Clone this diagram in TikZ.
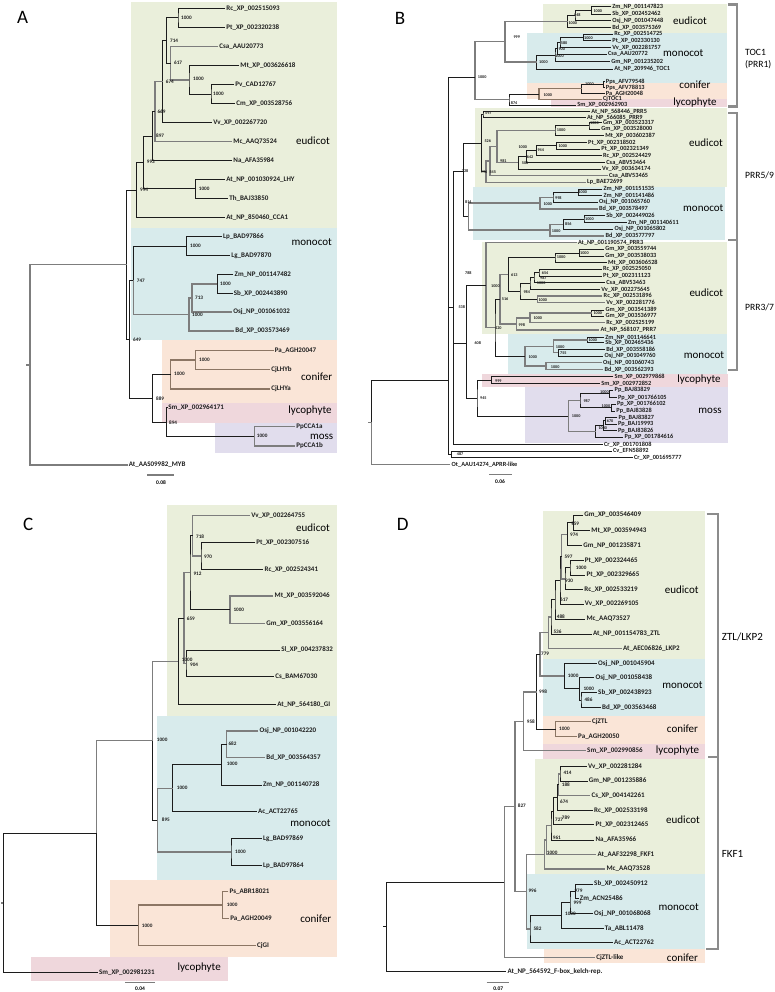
\documentclass[tikz,border=0pt]{standalone}
\usepackage{fontspec}
\setmainfont{Carlito}
\definecolor{cgreen}{RGB}{234,239,219}
\definecolor{cblue}{RGB}{216,235,236}
\definecolor{corange}{RGB}{250,229,215}
\definecolor{cpink}{RGB}{239,215,220}
\definecolor{cmoss}{RGB}{225,221,237}
\definecolor{brk}{RGB}{28,28,28}
\definecolor{brg}{RGB}{125,125,125}
\definecolor{brc}{RGB}{140,118,100}
\definecolor{bkt}{RGB}{140,140,140}
\newcounter{bsc}
\newcommand\Tl[4]{\coordinate (#1) at (#2,#3);\node[lab] (#1-t) at ([xshift=1.2pt]#1) {#4};}
\newcommand\Tn[3]{\coordinate (#1) at (#2,#3);}
\newcommand\Tp[4][]{\draw[br,#1] (#3) -| (#2) |- (#4);}
\newcommand\Te[3][]{\draw[br,#1] (#2) |- (#3);}
\newcommand\Tb[3]{\stepcounter{bsc}\node[bsl] (bs\arabic{bsc}) at (#1,#2) {#3};}
\tikzset{
 br/.style={draw=brk, line width=0.8pt},
 g/.style={draw=brg, line width=1.4pt},
 cf/.style={draw=brc, line width=1.2pt},
 lab/.style={anchor=west, inner sep=0pt, font=\fontsize{7}{8}\selectfont\bfseries, text=black!88},
 bsl/.style={anchor=west, inner sep=0pt, font=\fontsize{5.2}{6}\selectfont\bfseries, text=black!88},
 clade/.style={anchor=center, inner sep=0pt, font=\fontsize{11}{12}\selectfont},
 grp/.style={anchor=west, inner sep=0pt, font=\fontsize{11}{12}\selectfont},
 panel/.style={inner sep=0pt, font=\fontsize{19}{20}\selectfont},
 sbar/.style={draw=brg, line width=1.3pt},
 stxt/.style={inner sep=0pt, font=\fontsize{5.5}{6}\selectfont\bfseries},
 bracket/.style={draw=bkt, line width=2.4pt},
}
\begin{document}
\begin{tikzpicture}[x=1pt,y=-1pt]
\useasboundingbox (0,0) rectangle (775,992);
\fill[white] (0,0) rectangle (775,992);

%%%%%%%%%%%%%%%% PANEL A
\fill[cgreen] (131,2) rectangle (337,228);
\fill[cblue] (131,228) rectangle (337,340);
\fill[corange] (162,340) rectangle (337,403);
\fill[cpink] (162,403) rectangle (337,423);
\fill[cmoss] (215,423) rectangle (337,453);
\node[panel] (pA) at (22.5,17) {A};
\Tl{aRc}{225}{8.3}{Rc\_XP\_002515093}
\Tl{aPt}{225}{27.3}{Pt\_XP\_002320238}
\Tl{aCsa}{218}{46.7}{Csa\_AAU20773}
\Tl{aMt}{239}{65.7}{Mt\_XP\_003626618}
\Tl{aPv}{234}{84.3}{Pv\_CAD12767}
\Tl{aCm}{235}{103.7}{Cm\_XP\_003528756}
\Tl{aVv}{212}{122.7}{Vv\_XP\_002267720}
\Tl{aMc}{232}{141.7}{Mc\_AAQ73524}
\Tl{aNa}{232}{160.7}{Na\_AFA35984}
\Tl{aLHY}{225}{179.3}{At\_NP\_001030924\_LHY}
\Tl{aTh}{228}{198.3}{Th\_BAJ33850}
\Tl{aCCA}{225}{217.3}{At\_NP\_850460\_CCA1}
\Tl{aLp}{221.7}{236.7}{Lp\_BAD97866}
\Tl{aLg}{230}{255.7}{Lg\_BAD97870}
\Tl{aZm}{233.3}{274.3}{Zm\_NP\_001147482}
\Tl{aSb}{232.5}{293.3}{Sb\_XP\_002443890}
\Tl{aOsj}{232}{312}{Osj\_NP\_001061032}
\Tl{aBd}{234}{331}{Bd\_XP\_003573469}
\Tl{aPa}{273.5}{350.7}{Pa\_AGH20047}
\Tl{aCJb}{270}{369.3}{CjLHYb}
\Tl{aCJa}{270}{389}{CjLHYa}
\Tl{aSm}{167}{407.7}{Sm\_XP\_002964171}
\Tl{aPp1}{295}{426.7}{PpCCA1a}
\Tl{aPp2}{295}{446}{PpCCA1b}
\Tl{aMYB}{127.5}{465}{At\_AAS09982\_MYB}
\Tn{a1}{178}{17.8}
\Tn{a2}{211}{94}
\Tn{a3}{189}{80}
\Tn{a4}{170.7}{63.3}
\Tn{a5}{166.7}{40.6}
\Tn{a6}{162.7}{81.7}
\Tn{a7}{155}{111.7}
\Tn{a8}{152.7}{136.2}
\Tn{a9}{195.7}{188.8}
\Tn{a10}{143.3}{162.5}
\Tn{a11}{136.7}{190}
\Tn{a12}{186.7}{246.2}
\Tn{a13}{217.3}{283.8}
\Tn{a14}{192}{298}
\Tn{a15}{189}{314.5}
\Tn{a16}{133.3}{280.3}
\Tn{a17}{195.7}{360}
\Tn{a18}{170.7}{374.5}
\Tn{a19}{254.3}{436.3}
\Tn{a20}{166.7}{422}
\Tn{a21}{152.7}{398.3}
\Tn{a22}{129.3}{339.3}
\Tn{a23}{126.7}{264.7}
\Tn{aR}{30}{365}
\Tn{aRt}{26}{365}
\Tp{a1}{aRc}{aPt}
\Tp{a2}{aPv}{aCm}
\Tp{a3}{aMt}{a2}
\Tp[g]{a4}{aCsa}{a3}
\Tp{a5}{a1}{a4}
\Tp{a6}{a5}{aVv}
\Tp[g]{a7}{a6}{aMc}
\Tp{a8}{a7}{aNa}
\Tp{a9}{aLHY}{aTh}
\Tp{a10}{a8}{a9}
\Tp{a11}{a10}{aCCA}
\Tp{a12}{aLp}{aLg}
\Tp{a13}{aZm}{aSb}
\Tp[g]{a14}{a13}{aOsj}
\Tp[g]{a15}{a14}{aBd}
\Te{a16}{a12}\Te[g]{a16}{a15}
\Tp[cf]{a17}{aPa}{aCJb}
\Tp[cf]{a18}{a17}{aCJa}
\Tp[g]{a19}{aPp1}{aPp2}
\Te{a20}{aSm}\Te{a20}{a19}
\Tp{a21}{a18}{a20}
\Tp{a22}{a16}{a21}
\Tp{a23}{a11}{a22}
\Tp[g]{aR}{a23}{aMYB}
\draw[g] (aR) -- (aRt);
\Tb{181}{17.7}{1000}\Tb{213}{94}{1000}\Tb{193}{79.3}{1000}\Tb{174}{63}{617}
\Tb{170}{40.7}{714}\Tb{165.7}{81.7}{674}\Tb{157.3}{111.7}{669}\Tb{156}{136}{897}
\Tb{198.7}{189}{1000}\Tb{146.7}{162.3}{993}\Tb{140}{190}{994}\Tb{190}{246}{1000}
\Tb{220}{284}{1000}\Tb{195}{298.3}{713}\Tb{192}{315}{1000}\Tb{136.7}{280.7}{747}
\Tb{199}{360}{1000}\Tb{174}{374}{1000}\Tb{256.7}{436}{1000}\Tb{169}{422.3}{894}
\Tb{156}{398.3}{889}\Tb{133}{339.3}{649}
\node[clade] (kA1) at (313,140.7) {eudicot};
\node[clade] (kA2) at (311.7,241.7) {monocot};
\node[clade] (kA3) at (316.7,376.7) {conifer};
\node[clade] (kA4) at (310,411) {lycophyte};
\node[clade] (kA5) at (321.7,436.7) {moss};
\draw[sbar] (147.3,475) -- (174.3,475);
\node[stxt] (sA) at (161,483) {0.08};

%%%%%%%%%%%%%%%% PANEL B
\fill[cgreen] (543.3,4) rectangle (726.7,33.3);
\fill[cblue] (526.7,33.3) rectangle (726.7,83.3);
\fill[corange] (526.7,83.3) rectangle (726.7,99);
\fill[cpink] (550.7,99) rectangle (726.7,107.3);
\fill[cgreen] (475,108.3) rectangle (726.7,186.7);
\fill[cblue] (473.3,186.7) rectangle (725,240);
\fill[cgreen] (481.7,241.7) rectangle (726.7,334);
\fill[cblue] (508.3,334) rectangle (726.7,374);
\fill[cpink] (481.7,374) rectangle (728.3,387.3);
\fill[cmoss] (525,387.3) rectangle (728.3,443.3);
\node[panel] (pB) at (400,18.5) {B};
\begin{scope}[lab/.style={anchor=west, inner sep=0pt, font=\fontsize{6.3}{7}\selectfont\bfseries, text=black!88},
              bsl/.style={anchor=west, inner sep=0pt, font=\fontsize{4.2}{5}\selectfont\bfseries, text=black!88}]
\Tl{bZm1}{611}{6.7}{Zm\_NP\_001147823}
\Tl{bSb1}{611}{14}{Sb\_XP\_002452462}
\Tl{bOs1}{611}{20.7}{Osj\_NP\_001047448}
\Tl{bBd1}{611}{27.3}{Bd\_XP\_003575369}
\Tl{bRc1}{613}{34}{Rc\_XP\_002514725}
\Tl{bPt1}{611}{40.7}{Pt\_XP\_002330130}
\Tl{bVv1}{611}{47.7}{Vv\_XP\_002281757}
\Tl{bCsa1}{606.7}{54.3}{Csa\_AAU20772}
\Tl{bGm1}{610}{61.7}{Gm\_NP\_001235202}
\Tl{bAt1}{613}{69}{At\_NP\_209946\_TOC1}
\Tl{bPps1}{604.5}{81.5}{Pps\_AFV79548}
\Tl{bPps2}{604.5}{87.5}{Pps\_AFV78813}
\Tl{bPa1}{604.5}{93.3}{Pa\_AGH20048}
\Tl{bCj1}{601.7}{99.2}{CjTOC1}
\Tl{bSm1}{576}{105}{Sm\_XP\_002962903}
\Tl{bAt5}{590}{111.3}{At\_NP\_568446\_PRR5}
\Tl{bAt9}{585.7}{117.3}{At\_NP\_566085\_PRR9}
\Tl{bGm2}{601.7}{122.7}{Gm\_XP\_003523317}
\Tl{bGm3}{600}{129}{Gm\_XP\_003528000}
\Tl{bMt2}{604}{135.7}{Mt\_XP\_003602387}
\Tl{bPt2}{586.7}{142.3}{Pt\_XP\_002318502}
\Tl{bPt3}{600}{149}{Pt\_XP\_002321349}
\Tl{bRc2}{601.7}{155.7}{Rc\_XP\_002524429}
\Tl{bCsa2}{605}{162.3}{Csa\_ABV53464}
\Tl{bVv2}{600.7}{169}{Vv\_XP\_003634174}
\Tl{bCsa3}{607.7}{175.7}{Csa\_ABV53465}
\Tl{bLp2}{585.7}{182.3}{Lp\_BAE72699}
\Tl{bZm2}{602.3}{189}{Zm\_NP\_001151535}
\Tl{bZm3}{602.3}{195.7}{Zm\_NP\_001141486}
\Tl{bOs2}{597.7}{202.3}{Osj\_NP\_001065760}
\Tl{bBd2}{597.7}{209}{Bd\_XP\_003578497}
\Tl{bSb2}{605}{215.7}{Sb\_XP\_002449026}
\Tl{bZm4}{626.7}{222.7}{Zm\_NP\_001140611}
\Tl{bOs3}{613.3}{229.3}{Osj\_NP\_001065802}
\Tl{bBd3}{604.3}{236}{Bd\_XP\_003577797}
\Tl{bAt3}{576.7}{242.7}{At\_NP\_001190574\_PRR3}
\Tl{bGm4}{604}{249.3}{Gm\_XP\_003559744}
\Tl{bGm5}{604}{256}{Gm\_XP\_003538033}
\Tl{bMt3}{606.7}{262.7}{Mt\_XP\_003606528}
\Tl{bRc3}{601.7}{269.3}{Rc\_XP\_002525050}
\Tl{bPt4}{601.7}{276}{Pt\_XP\_002311123}
\Tl{bCsa4}{605}{282.7}{Csa\_ABV53463}
\Tl{bVv3}{600}{289.3}{Vv\_XP\_002275645}
\Tl{bRc4}{602.3}{296}{Rc\_XP\_002531896}
\Tl{bVv4}{605}{302.7}{Vv\_XP\_002281776}
\Tl{bGm6}{604.3}{310}{Gm\_XP\_003541389}
\Tl{bGm7}{604.3}{316}{Gm\_XP\_003536977}
\Tl{bRc5}{605}{322.7}{Rc\_XP\_002525199}
\Tl{bAt7}{599.3}{330}{At\_NP\_568107\_PRR7}
\Tl{bZm5}{604}{337.3}{Zm\_NP\_001146641}
\Tl{bSb3}{604}{342.7}{Sb\_XP\_002465436}
\Tl{bBd4}{605}{349.3}{Bd\_XP\_003558186}
\Tl{bOs4}{603.3}{356}{Osj\_NP\_001049760}
\Tl{bOs5}{601.7}{362.7}{Osj\_NP\_001060743}
\Tl{bBd5}{603.3}{369.3}{Bd\_XP\_003562393}
\Tl{bSm2}{613.3}{376.7}{Sm\_XP\_002979868}
\Tl{bSm3}{600}{383.3}{Sm\_XP\_002972852}
\Tl{bPp1}{613.3}{390}{Pp\_BAJ83829}
\Tl{bPp2}{616.7}{397.7}{Pp\_XP\_001766105}
\Tl{bPp3}{615.7}{404.3}{Pp\_XP\_001766102}
\Tl{bPp4}{615}{411}{Pp\_BAJ83828}
\Tl{bPp5}{617.3}{417.7}{Pp\_BAJ83827}
\Tl{bPp6}{616.7}{424}{Pp\_BAJ19993}
\Tl{bPp7}{616.7}{430.7}{Pp\_BAJ83826}
\Tl{bPp8}{623.3}{437.3}{Pp\_XP\_001784616}
\Tl{bCr1}{602.7}{444.3}{Cr\_XP\_001701808}
\Tl{bCv}{611.7}{451}{Cv\_EFN58892}
\Tl{bCr2}{632.7}{457.3}{Cr\_XP\_001695777}
\Tl{bOt}{450.3}{464.3}{Ot\_AAU14274\_APRR-like}
% internal nodes TOC1
\Tn{tZS}{591.7}{10.3}\Tn{t948}{575}{15.5}\Tn{t1a}{567.7}{21.4}
\Tn{tRP}{583.3}{37.3}\Tn{t580}{560}{42.5}\Tn{t900}{557.3}{48.4}
\Tn{t1b}{555}{55}\Tn{t1c}{536.7}{62}\Tn{t999}{505}{41.7}
\Tn{tPP}{603.3}{84.5}\Tn{tPa}{581.7}{88.9}\Tn{tCon}{539}{94}
\Tn{t874}{509}{99.5}\Tn{T0}{475}{77}
% PRR5/9
\Tn{p597}{483}{114.3}\Tn{pGa}{589}{125.8}\Tn{pGb}{555}{130.8}
\Tn{pPa}{556.7}{145.7}\Tn{p944}{536.7}{150.7}\Tn{p642}{526.7}{156.5}
\Tn{pF}{518.3}{162.75}\Tn{pG}{497}{146.8}\Tn{pH}{490}{161.2}
\Tn{pI}{486}{171.8}\Tn{pJ}{481.7}{143}
\Tn{mA}{578.3}{192.3}\Tn{mB}{553}{197.3}\Tn{mC}{540}{203.2}
\Tn{mD}{584}{219.2}\Tn{mE}{563.3}{224.3}\Tn{mF}{550}{230.2}
\Tn{m59}{468.3}{216.7}\Tn{p59}{463.3}{171.7}
% PRR3/7
\Tn{q1}{579.3}{253}\Tn{q2}{555}{257.8}\Tn{q3}{539}{272.7}
\Tn{q4}{534}{277.7}\Tn{q5}{530}{283.5}\Tn{q6}{537.3}{299.3}
\Tn{q7}{520}{291.4}\Tn{q8}{508.3}{274.6}\Tn{q9}{591.7}{313}
\Tn{q10}{530}{317.8}\Tn{q11}{516.7}{323.9}\Tn{qU}{500}{299.2}
\Tn{r1}{587.7}{340}\Tn{r2}{558.3}{352.7}\Tn{r3}{553.3}{346.3}
\Tn{r4}{546}{366}\Tn{r5}{525}{356.2}\Tn{q420}{495}{327.7}
\Tn{p37}{486}{285.2}
% lyco / moss / backbone
\Tn{l1}{491.7}{380}\Tn{o1}{609}{393.8}\Tn{o2}{611.7}{407.7}
\Tn{o3}{580}{400.7}\Tn{o4}{605}{420.8}\Tn{o5}{603.3}{425.8}
\Tn{o6}{595.7}{431.5}\Tn{o7}{568.3}{416}\Tn{l945}{477}{398}
\Tn{n608}{466.7}{343.3}\Tn{n2}{453.3}{307.3}\Tn{n487}{451.7}{454.2}
\Tn{n1}{448.3}{380}\Tn{bR}{371.7}{422.3}\Tn{bRt}{368}{422.3}
% edges
\Tp{tZS}{bZm1}{bSb1}\Tp{t948}{tZS}{bOs1}\Tp{t1a}{t948}{bBd1}
\Tp{tRP}{bRc1}{bPt1}\Tp{t580}{tRP}{bVv1}\Tp{t900}{t580}{bCsa1}
\Tp{t1b}{t900}{bGm1}\Tp{t1c}{t1b}{bAt1}\Tp[g]{t999}{t1a}{t1c}
\Tp{tPP}{bPps1}{bPps2}\Tp{tPa}{tPP}{bPa1}\Tp[cf]{tCon}{tPa}{bCj1}
\Tp{t874}{tCon}{bSm1}\Tp[g]{T0}{t999}{t874}
\Tp{p597}{bAt5}{bAt9}\Tp{pGa}{bGm2}{bGm3}\Tp{pGb}{pGa}{bMt2}
\Tp{pPa}{bPt2}{bPt3}\Tp{p944}{pPa}{bRc2}\Tp{p642}{p944}{bCsa2}
\Tp{pF}{p642}{bVv2}\Tp[g]{pG}{pGb}{pF}\Tp[g]{pH}{pG}{bCsa3}
\Tp[g]{pI}{pH}{bLp2}\Tp{pJ}{p597}{pI}
\Tp{mA}{bZm2}{bZm3}\Tp{mB}{mA}{bOs2}\Tp[g]{mC}{mB}{bBd2}
\Tp{mD}{bSb2}{bZm4}\Tp{mE}{mD}{bOs3}\Tp[g]{mF}{mE}{bBd3}
\Tp[g]{m59}{mC}{mF}\Tp{p59}{pJ}{m59}
\Tp{q1}{bGm4}{bGm5}\Tp{q2}{q1}{bMt3}\Tp{q3}{bRc3}{bPt4}
\Tp{q4}{q3}{bCsa4}\Tp{q5}{q4}{bVv3}\Tp[g]{q6}{bRc4}{bVv4}
\Tp{q7}{q5}{q6}\Tp{q8}{q2}{q7}\Tp{q9}{bGm6}{bGm7}
\Tp[g]{q10}{q9}{bRc5}\Tp[g]{q11}{q10}{bAt7}\Tp[g]{qU}{q8}{q11}
\Tp{r1}{bZm5}{bSb3}\Tp{r2}{bBd4}{bOs4}\Tp[g]{r3}{r1}{r2}
\Tp[g]{r4}{bOs5}{bBd5}\Tp[g]{r5}{r3}{r4}\Tp{q420}{qU}{r5}
\Tp[g]{p37}{bAt3}{q420}
\Tp{l1}{bSm2}{bSm3}\Tp{o1}{bPp1}{bPp2}\Tp{o2}{bPp3}{bPp4}
\Tp{o3}{o1}{o2}\Tp{o4}{bPp5}{bPp6}\Tp{o5}{o4}{bPp7}
\Tp{o6}{o5}{bPp8}\Tp[g]{o7}{o3}{o6}\Tp{l945}{l1}{o7}
\Tp{n608}{p37}{l945}
\Te{n2}{p59}\Te{n2}{n608}\Te{n2}{bCr1}
\Tp{n487}{bCv}{bCr2}
\Te{n1}{T0}\Te{n1}{n2}\Te{n1}{n487}
\Te{bR}{n1}\Te[g]{bR}{bOt}
\draw[g] (bR) -- (bRt);
% bootstrap values
\Tb{593.3}{11.5}{1000}\Tb{574}{15.5}{948}\Tb{568.3}{22.7}{1000}\Tb{584}{37.7}{1000}
\Tb{560.7}{42.7}{580}\Tb{558.3}{49.3}{900}\Tb{555}{56}{1000}\Tb{539}{61.7}{1000}
\Tb{513.3}{36.7}{999}\Tb{477.7}{77.3}{1000}\Tb{585}{84}{1000}\Tb{543.3}{95.5}{1000}
\Tb{510.7}{103}{874}\Tb{485}{112.7}{597}\Tb{590}{122.7}{1000}
\Tb{556.7}{130}{1000}\Tb{484.3}{141}{526}\Tb{518.3}{146.7}{1000}\Tb{558.3}{145.7}{1000}
\Tb{537.3}{150}{944}\Tb{526.7}{156.7}{642}\Tb{500}{161}{981}\Tb{521.7}{162.7}{506}
\Tb{480.7}{172.3}{996}\Tb{489.3}{172.3}{545}\Tb{461.7}{171}{728}
\Tb{578.3}{191.7}{1000}\Tb{555}{197.7}{998}\Tb{543.3}{204.3}{1000}\Tb{465}{201.7}{814}
\Tb{585}{219.3}{1000}\Tb{565}{224.3}{856}\Tb{551.7}{231}{1000}
\Tb{580}{252.7}{1000}\Tb{556.7}{257.3}{1000}\Tb{541.7}{272.7}{654}\Tb{540}{278.3}{987}
\Tb{536.7}{283.3}{1000}\Tb{511}{275}{613}\Tb{491}{286}{1000}\Tb{523.3}{291.7}{984}
\Tb{538.3}{300}{1000}\Tb{501.7}{299.3}{516}\Tb{593.3}{312.7}{1000}\Tb{533.3}{318.3}{1000}
\Tb{518.3}{325}{998}\Tb{495}{328.3}{420}\Tb{465}{272.7}{788}\Tb{458.3}{307.3}{538}
\Tb{474.3}{343.3}{608}\Tb{588.3}{340}{1000}\Tb{555.7}{346.7}{1000}\Tb{560}{353.3}{755}
\Tb{528.3}{357.3}{1000}\Tb{550.7}{366.7}{1000}
\Tb{495}{381}{999}\Tb{480}{398.3}{945}\Tb{583.3}{401}{987}\Tb{571.7}{416}{1000}
\Tb{600}{392}{1000}\Tb{601.5}{406.5}{1000}\Tb{606.7}{421}{670}\Tb{598.3}{428.3}{1000}
\Tb{456.7}{454}{487}
\end{scope}
\node[clade] (kB1) at (690,20.7) {eudicot};
\node[clade] (kB2) at (683.3,52.7) {monocot};
\node[clade] (kB3) at (695,85) {conifer};
\node[clade] (kB4) at (695,102.7) {lycophyte};
\node[clade] (kB5) at (706,142.3) {eudicot};
\node[clade] (kB6) at (703.3,208.3) {monocot};
\node[clade] (kB7) at (706.3,292.7) {eudicot};
\node[clade] (kB8) at (704,355) {monocot};
\node[clade] (kB9) at (699,380) {lycophyte};
\node[clade] (kB10) at (710,410.7) {moss};
\draw[bracket] (728,4.5) -- (737,4.5) -- (737,106.7) -- (728,106.7);
\draw[bracket] (728,113) -- (737,113) -- (737,370) -- (728,370);
\draw[bracket] (728,240) -- (737,240);
\begin{scope}[grp/.style={anchor=west, inner sep=0pt, font=\fontsize{9.6}{11}\selectfont}]
\node[grp] (gB1) at (745,52.7) {TOC1};
\node[grp] (gB2) at (745,64.3) {(PRR1)};
\node[grp] (gB3) at (745,175) {PRR5/9};
\node[grp] (gB4) at (745,307.3) {PRR3/7};
\end{scope}
\draw[sbar] (489.3,474.3) -- (511.7,474.3);
\node[stxt] (sB) at (500,481.7) {0.06};

%%%%%%%%%%%%%%%% PANEL C
\fill[cgreen] (166.7,505) rectangle (337.3,715.7);
\fill[cblue] (156.7,715.7) rectangle (337.3,880);
\fill[corange] (110,880) rectangle (337.3,956.7);
\fill[cpink] (31,956.7) rectangle (228.3,980.7);
\node[panel] (pC) at (28.3,524) {C};
\Tl{cVv}{250}{515.7}{Vv\_XP\_002264755}
\Tl{cPt}{255}{542.7}{Pt\_XP\_002307516}
\Tl{cRc}{263.3}{569.3}{Rc\_XP\_002524341}
\Tl{cMt}{273.3}{596}{Mt\_XP\_003592046}
\Tl{cGm}{265}{623.3}{Gm\_XP\_003556164}
\Tl{cSl}{280}{650}{Sl\_XP\_004237832}
\Tl{cCs}{274}{676.7}{Cs\_BAM67030}
\Tl{cAt}{276}{704.3}{At\_NP\_564180\_GI}
\Tl{cOs}{258.3}{731}{Osj\_NP\_001042220}
\Tl{cBd}{265}{757.7}{Bd\_XP\_003564357}
\Tl{cZm}{261.7}{785}{Zm\_NP\_001140728}
\Tl{cAc}{256.7}{811.7}{Ac\_ACT22765}
\Tl{cLg}{261.7}{838.3}{Lg\_BAD97869}
\Tl{cLp}{261.7}{865.7}{Lp\_BAD97864}
\Tl{cPs}{228.3}{891.7}{Ps\_ABR18021}
\Tl{cPa}{229}{918.3}{Pa\_AGH20049}
\Tl{cCj}{255.7}{945.7}{CjGI}
\Tl{cSm}{97.7}{972.3}{Sm\_XP\_002981231}
\Tn{c1}{201}{556}\Tn{c2}{192.7}{535.8}\Tn{c3}{230}{609.7}
\Tn{c4}{190}{572.7}\Tn{c5}{186}{663.3}\Tn{c6}{184}{618}
\Tn{c7}{178.3}{661.2}\Tn{c8}{226.7}{744.3}\Tn{c9}{221.7}{764.7}
\Tn{c10}{172.7}{788.2}\Tn{c11}{231}{852}\Tn{c12}{157.3}{820.1}
\Tn{c13}{152.3}{740.7}\Tn{c14}{222.7}{905}\Tn{c15}{138.3}{925.3}
\Tn{c16}{96.7}{833.3}\Tn{cR}{3.3}{902.8}\Tn{cRt}{0.5}{902.8}
\Tp{c1}{cPt}{cRc}\Tp[g]{c2}{cVv}{c1}\Tp[g]{c3}{cMt}{cGm}
\Tp{c4}{c2}{c3}\Tp{c5}{cSl}{cCs}\Tp[g]{c6}{c4}{c5}
\Tp{c7}{c6}{cAt}\Tp[g]{c8}{cOs}{cBd}\Tp{c9}{c8}{cZm}
\Tp{c10}{c9}{cAc}\Tp{c11}{cLg}{cLp}\Tp[g]{c12}{c10}{c11}
\Te[g]{c13}{c7}\Te{c13}{c12}
\Tp[cf]{c14}{cPs}{cPa}\Tp[cf]{c15}{c14}{cCj}
\Te[g]{c16}{c13}\Te{c16}{c15}
\Te{cR}{c16}\Te{cR}{cSm}
\draw[g] (cR) -- (cRt);
\Tb{204}{556.7}{970}\Tb{196}{536.3}{718}\Tb{233.3}{610}{1000}\Tb{193.3}{574}{912}
\Tb{190}{664.5}{904}\Tb{186.7}{618.3}{659}\Tb{181.7}{660}{1000}\Tb{228.3}{744}{682}
\Tb{226.7}{764}{1000}\Tb{176.7}{787.7}{1000}\Tb{235}{851.7}{1000}\Tb{161.7}{820}{895}
\Tb{156.7}{740}{1000}\Tb{226.7}{905}{1000}\Tb{141.7}{926}{1000}
\node[clade] (kC1) at (313,527.3) {eudicot};
\node[clade] (kC2) at (310.5,823.3) {monocot};
\node[clade] (kC3) at (315.8,918.3) {conifer};
\node[clade] (kC4) at (199.2,967.7) {lycophyte};
\draw[sbar] (125,982.7) -- (155,982.7);
\node[stxt] (sC) at (140,989) {0.04};

%%%%%%%%%%%%%%%% PANEL D
\fill[cgreen] (543.3,511) rectangle (705,659.3);
\fill[cblue] (543.3,659.3) rectangle (705,716);
\fill[corange] (543.3,716) rectangle (705,744.3);
\fill[cpink] (543.3,744.3) rectangle (705,759);
\fill[cgreen] (535,759) rectangle (705,874.3);
\fill[cblue] (526.7,874.3) rectangle (705,949);
\fill[corange] (544.3,949) rectangle (705,963.3);
\node[panel] (pD) at (402.7,524) {D};
\Tl{dGm1}{583}{515}{Gm\_XP\_003546409}
\Tl{dMt}{590}{530.7}{Mt\_XP\_003594943}
\Tl{dGm2}{582}{545.7}{Gm\_NP\_001235871}
\Tl{dPt1}{583.5}{560.7}{Pt\_XP\_002324465}
\Tl{dPt2}{585.2}{575}{Pt\_XP\_002329665}
\Tl{dRc1}{583}{589.7}{Rc\_XP\_002533219}
\Tl{dVv1}{583.5}{604}{Vv\_XP\_002269105}
\Tl{dMc1}{585.2}{619}{Mc\_AAQ73527}
\Tl{dZTL}{591.8}{634}{At\_NP\_001154783\_ZTL}
\Tl{dLKP}{621.8}{648.7}{At\_AEC06826\_LKP2}
\Tl{dOs1}{596.8}{663.3}{Osj\_NP\_001045904}
\Tl{dOs2}{594.2}{677.7}{Osj\_NP\_001058438}
\Tl{dSb1}{596.8}{692.7}{Sb\_XP\_002438923}
\Tl{dBd1}{600.8}{707.3}{Bd\_XP\_003563468}
\Tl{dCj}{590.8}{721.7}{CjZTL}
\Tl{dPa}{576.8}{736.7}{Pa\_AGH20050}
\Tl{dSm}{585.8}{750.7}{Sm\_XP\_002990856}
\Tl{dVv2}{586.8}{766.7}{Vv\_XP\_002281284}
\Tl{dGm3}{587.5}{781}{Gm\_NP\_001235886}
\Tl{dCs}{590.2}{795.7}{Cs\_XP\_004142261}
\Tl{dRc2}{592.8}{810.7}{Rc\_XP\_002533198}
\Tl{dPt3}{594.2}{824.7}{Pt\_XP\_002312465}
\Tl{dNa}{594.2}{840}{Na\_AFA35966}
\Tl{dAtF}{596.2}{854.3}{At\_AAF32298\_FKF1}
\Tl{dMc2}{605.2}{869}{Mc\_AAQ73528}
\Tl{dSb2}{592.8}{884}{Sb\_XP\_002450912}
\Tl{dZm}{578.5}{898.3}{Zm\_ACN25486}
\Tl{dOs3}{592.8}{913.3}{Osj\_NP\_001068068}
\Tl{dTa}{603.5}{928.3}{Ta\_ABL11478}
\Tl{dAc}{612.8}{942.3}{Ac\_ACT22762}
\Tl{dCjl}{595}{957.3}{CjZTL-like}
\Tl{dAtR}{506.2}{971.7}{At\_NP\_564592\_F-box\_kelch-rep.}
\Tn{d1}{573.3}{522.8}\Tn{d2}{567.3}{534.3}\Tn{d3}{570}{567.8}
\Tn{d4}{565}{578.8}\Tn{d5}{561.7}{556.6}\Tn{d6}{560}{580.3}
\Tn{d7}{555}{599.7}\Tn{d8}{551}{616.8}\Tn{d9}{548.3}{632.7}
\Tn{d10}{581}{700}\Tn{d11}{579.3}{688.8}\Tn{d12}{564.3}{676}
\Tn{d13}{540}{654.4}\Tn{d14}{555.7}{729.2}\Tn{d15}{536.7}{691.8}
\Tn{d16}{523.3}{721.2}
\Tn{f1}{560}{773.8}\Tn{f2}{558.3}{784.8}\Tn{f3}{557.7}{797.8}
\Tn{f4}{553.5}{811.2}\Tn{f5}{551}{825.6}\Tn{f6}{546.7}{840}
\Tn{f7}{544.3}{854.5}\Tn{f8}{575.7}{891.2}\Tn{f9}{570}{902.2}
\Tn{f10}{561.7}{915.3}\Tn{f11}{530}{928.8}\Tn{f12}{526.7}{891.7}
\Tn{d827}{515}{806.5}\Tn{dY}{504.3}{881.9}\Tn{dR}{386.7}{926.7}
\Tn{dRt}{383}{926.7}
\Tp{d1}{dGm1}{dMt}\Tp{d2}{d1}{dGm2}\Tp{d3}{dPt1}{dPt2}
\Tp{d4}{d3}{dRc1}\Tp[g]{d5}{d2}{d4}\Tp{d6}{d5}{dVv1}
\Tp{d7}{d6}{dMc1}\Tp{d8}{d7}{dZTL}\Tp[g]{d9}{d8}{dLKP}
\Tp{d10}{dSb1}{dBd1}\Tp{d11}{dOs2}{d10}\Tp{d12}{dOs1}{d11}
\Tp[g]{d13}{d9}{d12}\Tp[cf]{d14}{dCj}{dPa}\Tp{d15}{d13}{d14}
\Tp[g]{d16}{d15}{dSm}
\Tp{f1}{dVv2}{dGm3}\Tp[g]{f2}{f1}{dCs}\Tp{f3}{f2}{dRc2}
\Tp{f4}{f3}{dPt3}\Tp{f5}{f4}{dNa}\Tp[g]{f6}{f5}{dAtF}
\Tp[g]{f7}{f6}{dMc2}\Tp{f8}{dSb2}{dZm}\Tp{f9}{f8}{dOs3}
\Tp{f10}{f9}{dTa}\Tp{f11}{f10}{dAc}\Tp[g]{f12}{f7}{f11}
\Tp[g]{d827}{d16}{f12}\Tp[g]{dY}{d827}{dCjl}\Tp{dR}{dY}{dAtR}
\draw[br] (dR) -- (dRt);
\Tb{571}{524.3}{959}\Tb{570}{534.5}{974}\Tb{575.7}{567.7}{1000}\Tb{565}{581}{930}
\Tb{564.3}{556.7}{597}\Tb{560}{599.3}{617}\Tb{556.7}{616.7}{488}\Tb{553.3}{631.7}{536}
\Tb{541}{654}{779}\Tb{584.3}{699.3}{486}\Tb{583.3}{689.3}{1000}\Tb{567.7}{676}{1000}
\Tb{559}{729.3}{1000}\Tb{539}{691.7}{998}\Tb{526.7}{721.7}{958}
\Tb{563.3}{773.3}{414}\Tb{561.7}{785}{188}\Tb{560}{801.7}{674}\Tb{555}{819.3}{727}
\Tb{561.7}{817.3}{789}\Tb{552.7}{837.7}{961}\Tb{546.7}{853.3}{1000}
\Tb{574.3}{891}{979}\Tb{573.3}{902.3}{999}\Tb{565}{914.3}{1000}\Tb{533.3}{929}{582}
\Tb{528.3}{891}{996}\Tb{517.7}{806}{827}
\node[clade] (kD1) at (681.7,589.3) {eudicot};
\node[clade] (kD2) at (682.5,685) {monocot};
\node[clade] (kD3) at (682.5,728.3) {conifer};
\node[clade] (kD4) at (677.5,750.7) {lycophyte};
\node[clade] (kD5) at (683,819.3) {eudicot};
\node[clade] (kD6) at (678.7,907.3) {monocot};
\node[clade] (kD7) at (682.5,957.3) {conifer};
\draw[bracket] (706.7,514) -- (717.7,514) -- (717.7,949) -- (705.7,949);
\draw[bracket] (708,757) -- (717.7,757);
\node[grp] (gD1) at (721.7,636.7) {ZTL/LKP2};
\node[grp] (gD2) at (721.7,854.3) {FKF1};
\draw[sbar] (486.7,982.3) -- (509,982.3);
\node[stxt] (sD) at (498.3,989) {0.07};
\end{tikzpicture}
\end{document}
